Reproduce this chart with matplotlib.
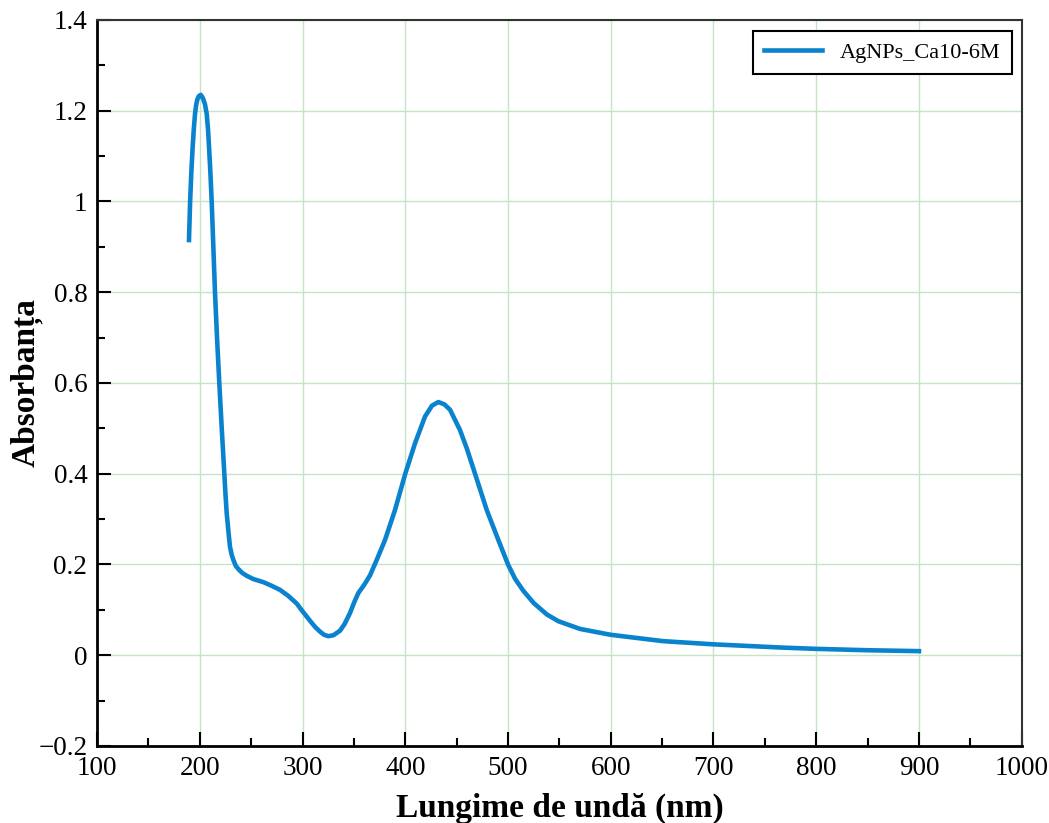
import matplotlib.pyplot as plt
from matplotlib.ticker import MultipleLocator, FuncFormatter

# Spectrum (wavelength nm, absorbance)
wavelength = [189.5, 190.6, 191.8, 193.1, 194.2, 195.4, 196.5, 197.5, 199, 201, 203,
              205, 206.7, 208, 209, 210.3, 211.6, 213.2, 214.8, 217, 219, 221.5,
              223.9, 225, 226.2, 228, 229.4, 231, 232.7, 235, 237.5, 241, 245.7,
              252, 261.9, 270, 278.1, 286, 294.3, 301, 307.3, 312, 317, 321,
              325.1, 330, 336.5, 341, 346.2, 350, 354.3, 360, 365.7, 372.2,
              380.3, 390, 400, 409.5, 419.2, 426, 432.2, 438, 443.6, 453.3, 460,
              467.9, 479.3, 490.6, 500, 507, 514.9, 525, 537.7, 549, 570, 600,
              651, 700, 765, 800, 850, 900]
absorbance = [0.915, 1.0, 1.065, 1.121, 1.16, 1.194, 1.213, 1.224, 1.232, 1.235,
              1.228, 1.215, 1.194, 1.16, 1.121, 1.065, 1.0, 0.9, 0.8, 0.69, 0.6,
              0.495, 0.40, 0.355, 0.313, 0.27, 0.239, 0.222, 0.21, 0.197, 0.19,
              0.182, 0.175, 0.168, 0.161, 0.153, 0.144, 0.131, 0.114, 0.094,
              0.076, 0.063, 0.052, 0.045, 0.042, 0.044, 0.054, 0.069, 0.093,
              0.115, 0.137, 0.155, 0.176, 0.210, 0.254, 0.320, 0.400, 0.467,
              0.526, 0.550, 0.558, 0.553, 0.541, 0.496, 0.455, 0.400, 0.320,
              0.254, 0.200, 0.168, 0.142, 0.115, 0.090, 0.075, 0.058, 0.045,
              0.031, 0.024, 0.017, 0.014, 0.011, 0.009]

plt.rcParams['font.family'] = ['Liberation Serif', 'DejaVu Serif']

fig = plt.figure(figsize=(10.49, 8.23), dpi=100)
ax = fig.add_axes([0.0925, 0.0936, 0.8815, 0.8821])

ax.plot(wavelength, absorbance, color='#0a83cf', linewidth=3.3, label='AgNPs_Ca10-6M',
        solid_joinstyle='round')

ax.set_xlim(100, 1000)
ax.set_ylim(-0.2, 1.4)
ax.xaxis.set_major_locator(MultipleLocator(100))
ax.xaxis.set_minor_locator(MultipleLocator(50))
ax.yaxis.set_major_locator(MultipleLocator(0.2))
ax.yaxis.set_minor_locator(MultipleLocator(0.1))
ax.yaxis.set_major_formatter(FuncFormatter(lambda v, p: f"{round(v, 1):g}".replace('-', '\u2212')))

ax.grid(True, which='major', color='#c6e3c6', linewidth=1.0)
ax.set_axisbelow(True)

ax.tick_params(which='both', direction='in', top=False, right=False,
               labelsize=19.5, colors='black', pad=7)
ax.tick_params(which='major', length=10, width=1.5)
ax.tick_params(which='minor', length=6, width=1.5)

for side in ['left', 'bottom']:
    ax.spines[side].set_linewidth(2)
    ax.spines[side].set_color('black')
for side in ['top', 'right']:
    ax.spines[side].set_linewidth(1.5)
    ax.spines[side].set_color('#333333')

ax.set_xlabel('Lungime de undă (nm)', fontsize=24, fontweight='bold', labelpad=9)
ax.set_ylabel('Absorbanța', fontsize=24, fontweight='bold')
ax.yaxis.set_label_coords(-0.059, 0.5)

leg = ax.legend(loc='upper right', fontsize=16, fancybox=False, framealpha=1,
                edgecolor='black', handlelength=2.6, borderpad=0.5, borderaxespad=0,
                bbox_to_anchor=(0.989, 0.985))
leg.get_frame().set_linewidth(1.5)

plt.savefig('out.png', dpi=100)
